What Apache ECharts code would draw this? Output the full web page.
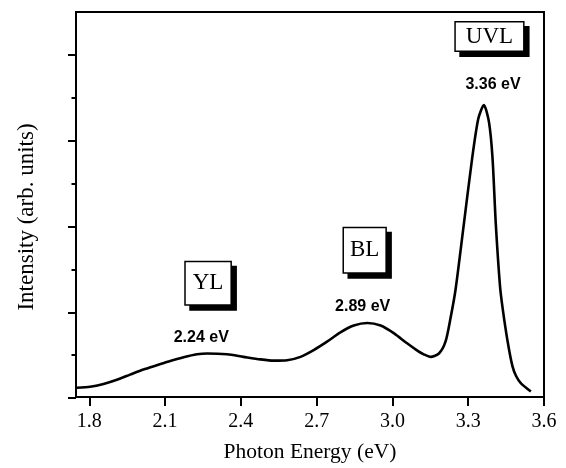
<!DOCTYPE html>
<html><head><meta charset="utf-8">
<style>html,body{margin:0;padding:0;background:#fff}#c{width:566px;height:468px}</style>
<script src="https://cdn.jsdelivr.net/npm/echarts@6/dist/echarts.min.js"></script>
</head><body><div id="c"></div>
<script>
// Photon energy (eV) and PL intensity (arb. units)
var energy = [1.750, 1.803, 1.856, 1.909, 1.961, 2.014, 2.067, 2.120, 2.173, 2.226, 2.266, 2.345, 2.410, 2.477, 2.530, 2.583, 2.636, 2.688, 2.741, 2.794, 2.847, 2.900, 2.953, 3.005, 3.058, 3.100, 3.124, 3.151, 3.184, 3.210, 3.230, 3.250, 3.283, 3.316, 3.340, 3.362, 3.382, 3.396, 3.409, 3.426, 3.436, 3.455, 3.475, 3.490, 3.508, 3.548];
var intensity = [0.055, 0.066, 0.10, 0.15, 0.21, 0.27, 0.32, 0.37, 0.415, 0.45, 0.46, 0.45, 0.42, 0.39, 0.375, 0.38, 0.42, 0.50, 0.60, 0.71, 0.79, 0.82, 0.79, 0.70, 0.58, 0.49, 0.45, 0.42, 0.46, 0.60, 0.88, 1.22, 2.0, 2.78, 3.24, 3.40, 3.20, 2.78, 2.0, 1.25, 1.0, 0.62, 0.31, 0.19, 0.11, 0.01];
var bandNames = ['YL', 'BL', 'UVL'];
var peakEnergies = [2.24, 2.89, 3.36];
var xTicks = [1.8, 2.1, 2.4, 2.7, 3.0, 3.3, 3.6];

var chart = echarts.init(document.getElementById('c'), null, {renderer: 'canvas'});
var serif = 'Liberation Serif';
var sans = 'Liberation Sans';

var curve = energy.map(function (e, i) { return [e, intensity[i]]; });

// annotation anchors (data coordinates)
var boxAnchors = [[2.27, 1.29], [2.89, 1.68], [3.384, 4.21]];
var boxPads = [[9, 7, 9, 7], [10, 6, 10, 6], [2, 10, 2, 10]];
var textAnchors = [[2.243, 0.65], [2.882, 1.02], [3.398, 3.64]];

var boxData = bandNames.map(function (n, i) {
  return {
    value: boxAnchors[i],
    label: {
      show: true, position: 'inside', formatter: n,
      fontFamily: serif, fontSize: 23, color: '#000', lineHeight: 24,
      backgroundColor: '#fff', borderColor: '#000', borderWidth: 1.5,
      padding: boxPads[i],
      shadowColor: '#000', shadowBlur: 0, shadowOffsetX: 5, shadowOffsetY: 5
    }
  };
});
var eData = peakEnergies.map(function (p, i) {
  return {
    value: textAnchors[i],
    label: {
      show: true, position: 'inside', formatter: p.toFixed(2) + ' eV',
      fontFamily: sans, fontSize: 16, fontWeight: 'bold', color: '#000'
    }
  };
});

var option = {
  animation: false,
  backgroundColor: '#fff',
  grid: [
    {left: 76, right: 22, top: 12, bottom: 65.3, show: true, borderColor: '#000', borderWidth: 2, backgroundColor: 'transparent'},
    {left: 89.3, right: 22, top: 55, bottom: 70}
  ],
  xAxis: [
    {gridIndex: 0, type: 'value', min: 1.747, max: 3.6,
      axisLine: {show: false}, axisTick: {show: false}, axisLabel: {show: false}, splitLine: {show: false},
      name: 'Photon Energy (eV)', nameLocation: 'middle', nameGap: 44,
      nameTextStyle: {fontFamily: serif, fontSize: 21.5, color: '#000'}},
    {gridIndex: 1, type: 'value', min: 1.8, max: 3.6, interval: 0.3, offset: 4.7,
      axisLine: {show: false},
      axisTick: {show: true, inside: false, length: 8, lineStyle: {color: '#000', width: 2}},
      axisLabel: {show: true, margin: 9, fontFamily: serif, fontSize: 20, color: '#000',
        formatter: function (v) { return v.toFixed(1); }},
      splitLine: {show: false}}
  ],
  yAxis: [
    {gridIndex: 0, type: 'value', min: -0.055, max: 4.5,
      axisLine: {show: false}, axisTick: {show: false}, axisLabel: {show: false}, splitLine: {show: false}},
    {gridIndex: 1, type: 'value', min: 0, max: 4, interval: 1, offset: 13.3,
      axisLine: {show: false},
      axisTick: {show: true, inside: false, length: 8, lineStyle: {color: '#000', width: 2}},
      minorTick: {show: true, splitNumber: 2, length: 4.5, lineStyle: {color: '#000', width: 2}},
      axisLabel: {show: false}, splitLine: {show: false}, minorSplitLine: {show: false}}
  ],
  graphic: [{
    type: 'text', x: 27, y: 217, rotation: Math.PI / 2,
    style: {text: 'Intensity (arb. units)', fontFamily: serif, fontSize: 23, fill: '#000',
      align: 'center', verticalAlign: 'middle'}
  }],
  series: [
    {type: 'line', xAxisIndex: 0, yAxisIndex: 0, data: curve, smooth: 0.25, showSymbol: false,
      lineStyle: {color: '#000', width: 2.6}, z: 3},
    {type: 'scatter', xAxisIndex: 0, yAxisIndex: 0, data: boxData, symbolSize: 0, z: 5, silent: true,
      itemStyle: {opacity: 1}},
    {type: 'scatter', xAxisIndex: 0, yAxisIndex: 0, data: eData, symbolSize: 0, z: 5, silent: true,
      itemStyle: {opacity: 1}}
  ]
};
chart.setOption(option);
</script></body></html>
